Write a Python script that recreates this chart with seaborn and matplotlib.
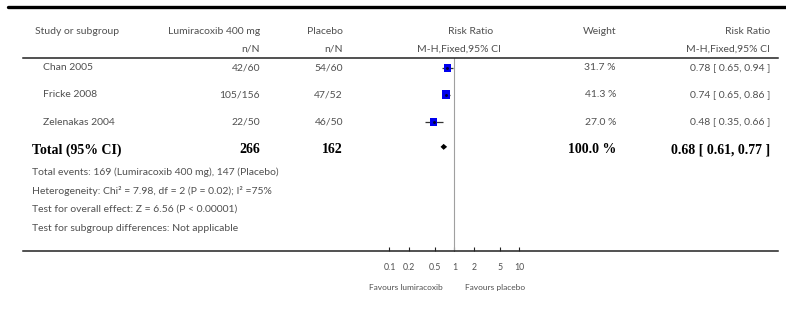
import matplotlib
matplotlib.use("Agg")
import matplotlib.pyplot as plt
from matplotlib.lines import Line2D
from matplotlib.transforms import blended_transform_factory
import numpy as np
import pandas as pd
import seaborn as sns

# ---------------- data ----------------
studies = ["Chan 2005", "Fricke 2008", "Zelenakas 2004"]
lumi_nN = ["42/60", "105/156", "22/50"]
plac_nN = ["54/60", "47/52", "46/50"]
rr = [0.78, 0.74, 0.48]
rr_lo = [0.65, 0.65, 0.35]
rr_hi = [0.94, 0.86, 0.66]
weights = [31.7, 41.3, 27.0]
weight_labels = ["31.7 %", "41.3 %", "27.0 %"]
rr_labels = ["0.78 [ 0.65, 0.94 ]", "0.74 [ 0.65, 0.86 ]", "0.48 [ 0.35, 0.66 ]"]

total_label = "Total (95% CI)"
total_lumi = "266"
total_plac = "162"
total_rr = 0.68
total_lo = 0.61
total_hi = 0.77
total_weight = "100.0 %"
total_rr_label = "0.68 [ 0.61, 0.77 ]"

footer = [
    "Total events: 169 (Lumiracoxib 400 mg), 147 (Placebo)",
    "Heterogeneity: Chi\u00b2 = 7.98, df = 2 (P = 0.02); I\u00b2 =75%",
    "Test for overall effect: Z = 6.56 (P < 0.00001)",
    "Test for subgroup differences: Not applicable",
]
xticks = [0.1, 0.2, 0.5, 1, 2, 5, 10]
xtick_labels = ["0.1", "0.2", "0.5", "1", "2", "5", "10"]
favours_left = "Favours lumiracoxib"
favours_right = "Favours placebo"

# ---------------- figure ----------------
sns.set_theme(style="white")
plt.rcParams["font.family"] = ["Lato", "DejaVu Sans"]

W, H = 786, 322
fig = plt.figure(figsize=(W / 100, H / 100), dpi=100)

def fx(x):
    return x / W

def fy(y):
    return 1 - y / H

TXT = "#505050"
BODY = 7.45
SERIF = ["Liberation Serif", "DejaVu Serif"]

# forest axes: log x, 1 at px 454.5, 65 px per decade
ax_l, ax_r, ax_t, ax_b = 23, 778, 57.5, 250.5
ax = fig.add_axes([fx(ax_l), fy(ax_b), fx(ax_r - ax_l), (ax_b - ax_t) / H])
ax.set_xscale("log")
one_px, dec_px = 454.5, 65.0
ax.set_xlim(10 ** ((ax_l - one_px) / dec_px), 10 ** ((ax_r - one_px) / dec_px))
row_px = 27.2
first_row_px = 67.7
ylo = -(first_row_px - ax_t) / row_px
ax.set_ylim(ylo + (ax_b - ax_t) / row_px, ylo)

df = pd.DataFrame({"study": studies, "rr": rr, "lo": rr_lo, "hi": rr_hi,
                   "w": weights, "row": np.arange(len(studies))})
# confidence intervals
ax.hlines(df["row"], df["lo"], df["hi"], color="#333333", lw=0.9, zorder=2)
# squares sized by weight
side_px = 1.4 * np.sqrt(df["w"])
df["size"] = (side_px * 0.72) ** 2
sns.scatterplot(data=df, x="rr", y="row", size="size", sizes=(df["size"].min(), df["size"].max()),
                marker="s", color="#0000ee", edgecolor="none", legend=False, ax=ax, zorder=3)
# small centre dots
ax.scatter(df["rr"], df["row"], s=1.2, color="#000033", zorder=4)
# diamond for total
trow = len(studies) - 0.09
dh = 0.11
ax.fill([total_lo, total_rr, total_hi, total_rr], [trow, trow - dh, trow, trow + dh],
        color="black", lw=0, zorder=3)
# line of no effect
ax.axvline(1, color="#a0a0a0", lw=0.8, zorder=1)

for s in ["left", "right"]:
    ax.spines[s].set_visible(False)
ax.spines["top"].set_color("#222222")
ax.spines["top"].set_linewidth(1.1)
ax.spines["bottom"].set_color("#222222")
ax.spines["bottom"].set_linewidth(1.1)
ax.set_xticks(xticks)
ax.set_xticklabels([])
ax.xaxis.set_minor_locator(matplotlib.ticker.NullLocator())
ax.tick_params(axis="x", direction="in", length=3, width=0.8, color="#222222", bottom=True)
ax.set_yticks([])
ax.set_xlabel("")
ax.set_ylabel("")
ax.patch.set_alpha(0)

# tick labels below the axis
tr_x = blended_transform_factory(ax.transData, fig.transFigure)
for t, lab in zip(xticks, xtick_labels):
    fig.text(t, fy(267), lab, transform=tr_x, ha="center", va="center", fontsize=6.3, color=TXT)
fig.text(fx(405.5), fy(287.5), favours_left, ha="center", va="center", fontsize=6, color=TXT)
fig.text(fx(495), fy(287.5), favours_right, ha="center", va="center", fontsize=6, color=TXT)

# top thick rule
fig.add_artist(Line2D([fx(8), fx(786)], [fy(7), fy(7)], transform=fig.transFigure,
                      color="black", lw=2.4))

# headers
hy1, hy2 = fy(31), fy(49)
fig.text(fx(35), hy1, "Study or subgroup", ha="left", va="center", fontsize=BODY, color=TXT)
fig.text(fx(260), hy1, "Lumiracoxib 400 mg", ha="right", va="center", fontsize=BODY, color=TXT)
fig.text(fx(260), hy2, "n/N", ha="right", va="center", fontsize=BODY, color=TXT)
fig.text(fx(343), hy1, "Placebo", ha="right", va="center", fontsize=BODY, color=TXT)
fig.text(fx(343), hy2, "n/N", ha="right", va="center", fontsize=BODY, color=TXT)
fig.text(fx(471), hy1, "Risk Ratio", ha="center", va="center", fontsize=BODY, color=TXT)
fig.text(fx(459), hy2, "M-H,Fixed,95% CI", ha="center", va="center", fontsize=BODY, color=TXT)
fig.text(fx(616), hy1, "Weight", ha="right", va="center", fontsize=BODY, color=TXT)
fig.text(fx(770), hy1, "Risk Ratio", ha="right", va="center", fontsize=BODY, color=TXT)
fig.text(fx(770), hy2, "M-H,Fixed,95% CI", ha="right", va="center", fontsize=BODY, color=TXT)

# study rows
tr = blended_transform_factory(fig.transFigure, ax.transData)
for i in range(len(studies)):
    fig.text(fx(43), i, studies[i], transform=tr, ha="left", va="center", fontsize=BODY, color=TXT)
    fig.text(fx(260), i, lumi_nN[i], transform=tr, ha="right", va="center", fontsize=BODY, color=TXT)
    fig.text(fx(343), i, plac_nN[i], transform=tr, ha="right", va="center", fontsize=BODY, color=TXT)
    fig.text(fx(616), i, weight_labels[i], transform=tr, ha="right", va="center", fontsize=BODY, color=TXT)
    fig.text(fx(770), i, rr_labels[i], transform=tr, ha="right", va="center", fontsize=BODY, color=TXT)

# total row
ty = len(studies) + 0.02
bold = dict(transform=tr, va="center", fontsize=10, fontweight="bold", color="black", family=SERIF)
fig.text(fx(32), ty, total_label, ha="left", **bold)
fig.text(fx(260), ty, total_lumi, ha="right", **bold)
fig.text(fx(343), ty, total_plac, ha="right", **bold)
fig.text(fx(616), ty, total_weight, ha="right", **bold)
fig.text(fx(770), ty, total_rr_label, ha="right", **bold)

# footer
for k, line in enumerate(footer):
    fig.text(fx(32), fy(172 + k * 18.7), line, ha="left", va="center", fontsize=BODY, color=TXT)

fig.savefig("out.png", dpi=100)
